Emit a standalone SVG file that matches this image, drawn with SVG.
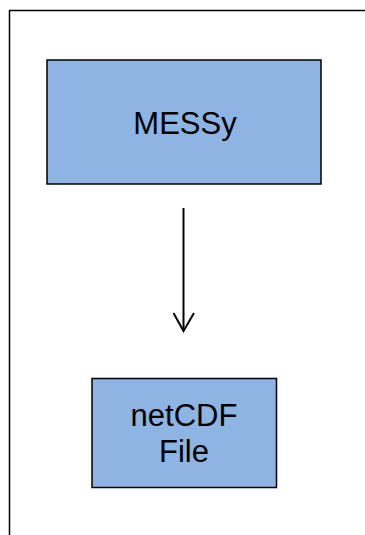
<svg xmlns="http://www.w3.org/2000/svg" width="365" height="535" viewBox="0 0 365 535">
<style>
.box{fill:#8EB4E3;stroke:#000;stroke-width:1.5}
.lbl{font-family:"Liberation Sans",Arial,sans-serif;font-size:31px;fill:#000;text-anchor:middle}
.frame{fill:none;stroke:#000;stroke-width:1.5}
.conn{stroke:#000;stroke-width:2;fill:none}
</style>
<rect width="365" height="535" fill="#fff"/>
<path class="frame" d="M9.5,535 V10.5 H365"/>
<g id="messy">
<rect class="box" x="47" y="60" width="274" height="124"/>
<text class="lbl" x="185" y="133.5">MESSy</text>
</g>
<g id="netcdf">
<rect class="box" x="92" y="378.5" width="184.5" height="109"/>
<text class="lbl" x="184" y="425.5">netCDF</text>
<text class="lbl" x="184" y="461.5">File</text>
</g>
<g id="connectors">
<line class="conn" x1="183.5" y1="208" x2="183.5" y2="331"/>
<path class="conn" d="M173.5,313 L183.5,331 L194,313"/>
</g>
</svg>
